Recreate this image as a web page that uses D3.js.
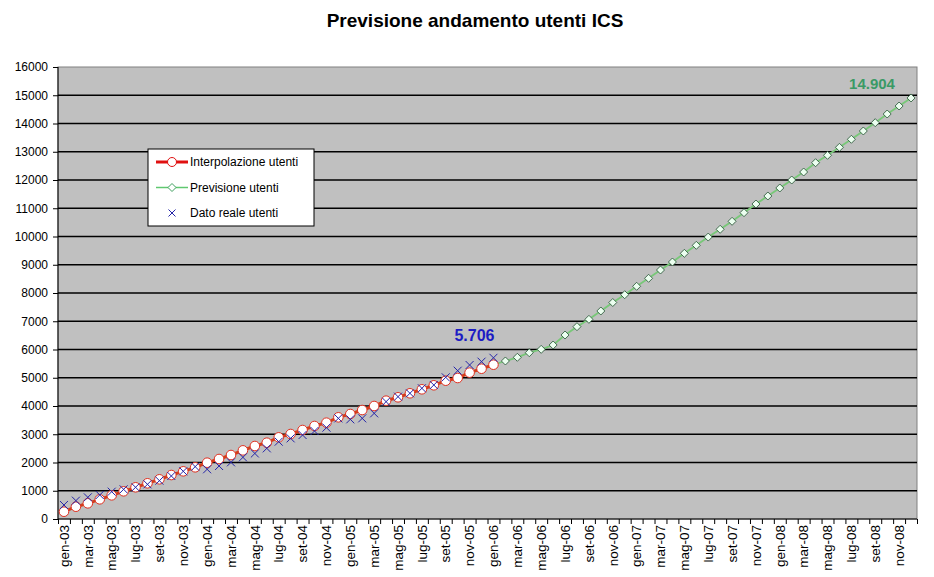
<!DOCTYPE html>
<html lang="it">
<head>
<meta charset="UTF-8">
<title>Previsione andamento utenti ICS</title>
<script src="https://d3js.org/d3.v7.min.js"></script>
<style>
    body { margin: 0; background: #fff; }
    svg { font-family: Arial, "Liberation Sans", sans-serif; }
    .asse text { font-size: 12px; fill: #000; }
    .asse .domain { stroke: #000; }
    .asse .tick line { stroke: #000; }
</style>
</head>
<body>
<svg id="chart" width="934" height="577"></svg>
<script>
    // mesi e anni per le categorie
    const mesi = ["gen", "feb", "mar", "apr", "mag", "giu", "lug", "ago", "set", "ott", "nov", "dic"];
    const anni = ["03", "04", "05", "06", "07", "08"];
    const categorie = anni.flatMap(a => mesi.map(m => `${m}-${a}`));

    // interpolazione utenti, gen-03 .. gen-06
    const interpolazione = [258, 435, 555, 697, 838, 980, 1122, 1264, 1405, 1557, 1688, 1830,
        1993, 2124, 2265, 2430, 2584, 2701, 2891, 3009, 3150, 3292, 3410, 3600,
        3717, 3858, 4000, 4188, 4308, 4450, 4591, 4733, 4896, 4991, 5180, 5320, 5462];

    // dato reale utenti, gen-03 .. gen-06
    const reale = [496, 649, 767, 850, 967, 1050, 1122, 1227, 1357, 1522, 1688, 1853,
        1760, 1876, 2006, 2183, 2320, 2501, 2737, 2855, 2973, 3115, 3233, 3563,
        3528, 3563, 3740, 4153, 4330, 4450, 4627, 4743, 5015, 5250, 5451, 5569, 5706];

    // previsione utenti, da gen-06 (aggancio) a dic-08
    const inizioPrevisione = 36;
    const previsione = [5462, 5593, 5724, 5887, 6006, 6159, 6513, 6808, 7068, 7363, 7663, 7940,
        8237, 8520, 8814, 9097, 9405, 9688, 9980, 10255, 10538, 10843, 11150, 11434,
        11717, 12000, 12283, 12612, 12874, 13157, 13441, 13735, 14029, 14336, 14619, 14904];

    const yTicks = d3.range(0, 16001, 1000);

    const margin = { top: 67, right: 17, bottom: 58, left: 58 };
    const width = 934, height = 577;
    const svg = d3.select("#chart");

    const x = d3.scaleBand().domain(categorie).range([margin.left, width - margin.right]);
    const y = d3.scaleLinear().domain([0, 16000]).range([height - margin.bottom, margin.top]);
    const cx = c => x(c) + x.bandwidth() / 2;

    // titolo
    svg.append("text")
        .attr("x", 475).attr("y", 27)
        .attr("text-anchor", "middle")
        .style("font-size", "19px").style("font-weight", "bold")
        .text("Previsione andamento utenti ICS");

    // area del grafico
    svg.append("rect")
        .attr("x", margin.left).attr("y", margin.top)
        .attr("width", width - margin.left - margin.right)
        .attr("height", height - margin.top - margin.bottom)
        .attr("fill", "#c0c0c0")
        .attr("stroke", "#808080");

    // griglia
    svg.append("g").selectAll("line")
        .data(yTicks.filter(d => d > 0 && d < 16000))
        .enter().append("line")
        .attr("x1", margin.left).attr("x2", width - margin.right)
        .attr("y1", d => y(d)).attr("y2", d => y(d))
        .attr("stroke", "#000").attr("stroke-width", 1.3);

    // asse y
    svg.append("g")
        .attr("class", "asse")
        .attr("transform", `translate(${margin.left},0)`)
        .call(d3.axisLeft(y).tickValues(yTicks).tickSize(5).tickPadding(5).tickFormat(d => d))
        .call(g => g.select(".domain").attr("d", `M0,${y(0)}V${y(16000)}`));

    // asse x: tacche tra le categorie
    const xLin = d3.scaleLinear().domain([0, categorie.length]).range([margin.left, width - margin.right]);
    svg.append("g")
        .attr("class", "asse")
        .attr("transform", `translate(0,${y(0)})`)
        .call(d3.axisBottom(xLin).tickValues(d3.range(categorie.length + 1)).tickSize(5).tickFormat(""))
        .call(g => g.select(".domain").attr("d", `M${margin.left},0H${width - margin.right}`));

    // etichette x ruotate
    svg.append("g")
        .attr("class", "asse")
        .attr("transform", `translate(0,${y(0)})`)
        .call(d3.axisBottom(x).tickValues(categorie.filter((c, i) => i % 2 === 0)).tickSize(0))
        .call(g => g.select(".domain").remove())
        .selectAll("text")
        .style("font-size", "13.5px")
        .attr("transform", "rotate(-90)")
        .attr("text-anchor", "end")
        .attr("x", -6).attr("y", 0).attr("dy", "0.35em");

    // previsione
    const datiPrev = previsione.map((v, i) => ({ c: categorie[inizioPrevisione + i], v }));
    svg.append("path")
        .datum(datiPrev)
        .attr("fill", "none")
        .attr("stroke", "#78c878")
        .attr("stroke-width", 1.8)
        .attr("d", d3.line().x(d => cx(d.c)).y(d => y(d.v)));
    svg.append("g").selectAll("path")
        .data(datiPrev.slice(1))
        .enter().append("path")
        .attr("transform", d => `translate(${cx(d.c)},${y(d.v)})`)
        .attr("d", "M0,-4L4,0L0,4L-4,0Z")
        .attr("fill", "#ecfff0")
        .attr("stroke", "#1f4f2f")
        .attr("stroke-width", 0.8);

    // interpolazione
    const datiInt = interpolazione.map((v, i) => ({ c: categorie[i], v }));
    svg.append("path")
        .datum(datiInt)
        .attr("fill", "none")
        .attr("stroke", "#d2401a")
        .attr("stroke-width", 3)
        .attr("d", d3.line().x(d => cx(d.c)).y(d => y(d.v)));
    svg.append("g").selectAll("circle")
        .data(datiInt)
        .enter().append("circle")
        .attr("cx", d => cx(d.c)).attr("cy", d => y(d.v))
        .attr("r", 4.8)
        .attr("fill", "#fff")
        .attr("stroke", "#e03020")
        .attr("stroke-width", 1);

    // dato reale
    const datiReali = reale.map((v, i) => ({ c: categorie[i], v }));
    svg.append("g").selectAll("path")
        .data(datiReali)
        .enter().append("path")
        .attr("transform", d => `translate(${cx(d.c)},${y(d.v)})`)
        .attr("d", "M-4,-4L4,4M-4,4L4,-4")
        .attr("stroke", "#2424a8")
        .attr("stroke-width", 1);

    // etichette valori
    const ultimoReale = datiReali[datiReali.length - 1];
    svg.append("text")
        .attr("x", cx(ultimoReale.c) - 19).attr("y", y(ultimoReale.v) - 17)
        .attr("text-anchor", "middle")
        .style("font-size", "16px").style("font-weight", "bold")
        .attr("fill", "#1c1cc4")
        .text(d3.format(",")(ultimoReale.v).replace(",", "."));
    const ultimaPrev = datiPrev[datiPrev.length - 1];
    svg.append("text")
        .attr("x", cx(ultimaPrev.c) - 39).attr("y", y(ultimaPrev.v) - 9)
        .attr("text-anchor", "middle")
        .style("font-size", "15px").style("font-weight", "bold")
        .attr("fill", "#3a9a66")
        .text(d3.format(",")(ultimaPrev.v).replace(",", "."));

    // legenda
    const legenda = svg.append("g").attr("transform", "translate(148,149)");
    legenda.append("rect")
        .attr("width", 166).attr("height", 77)
        .attr("fill", "#fff").attr("stroke", "#000");
    const voci = [
        { nome: "Interpolazione utenti", tipo: "int" },
        { nome: "Previsione utenti", tipo: "prev" },
        { nome: "Dato reale utenti", tipo: "reale" }
    ];
    voci.forEach((v, i) => {
        const g = legenda.append("g").attr("transform", `translate(0,${13 + i * 25.5})`);
        if (v.tipo === "int") {
            g.append("line").attr("x1", 8).attr("x2", 40).attr("stroke", "#e01010").attr("stroke-width", 3);
            g.append("circle").attr("cx", 24).attr("r", 4.5).attr("fill", "#fff").attr("stroke", "#e01010");
        } else if (v.tipo === "prev") {
            g.append("line").attr("x1", 8).attr("x2", 40).attr("stroke", "#60c870").attr("stroke-width", 1.5);
            g.append("path").attr("transform", "translate(24,0)").attr("d", "M0,-4L4,0L0,4L-4,0Z")
                .attr("fill", "#fff").attr("stroke", "#40a060");
        } else {
            g.append("path").attr("transform", "translate(24,0)").attr("d", "M-3.5,-3.5L3.5,3.5M-3.5,3.5L3.5,-3.5")
                .attr("stroke", "#2424a8");
        }
        g.append("text").attr("x", 42).attr("dy", "0.35em")
            .style("font-size", "12px").text(v.nome);
    });
</script>
</body>
</html>
